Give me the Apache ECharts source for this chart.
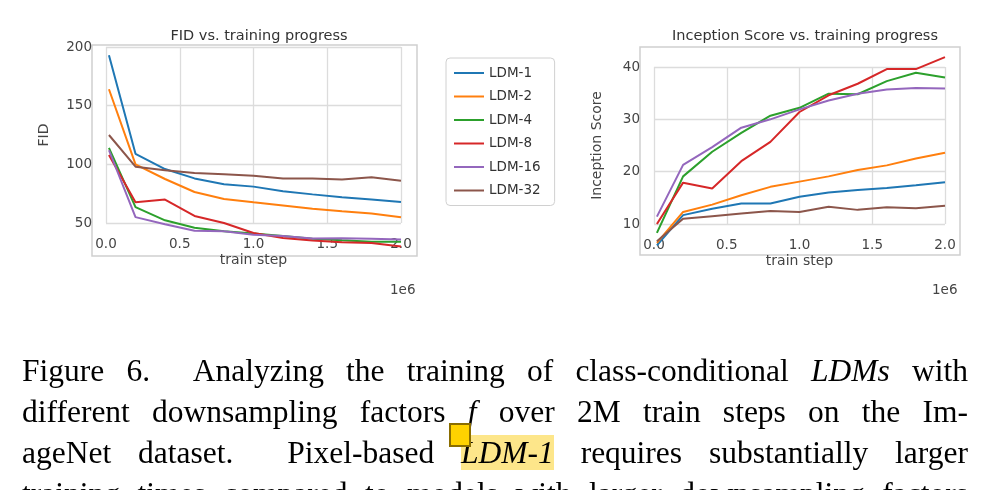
<!DOCTYPE html>
<html>
<head>
<meta charset="utf-8">
<script src="https://cdn.jsdelivr.net/npm/echarts@6/dist/echarts.min.js"></script>
<style>
  body { margin:0; background:#fff; }
  #main { width:996px; height:490px; position:absolute; left:0; top:0; }
  .cap { position:absolute; left:22px; width:946px; font-family:"Liberation Serif","Times New Roman",serif;
         font-size:31.5px; line-height:41px; color:#000; overflow:hidden; height:170px; top:350px; }
  .cap div { text-align:justify; text-align-last:justify; white-space:nowrap; }
  .hl { background:#fde68a; font-style:italic; position:relative; }
  .note { position:absolute; left:-12px; top:-12px; width:22px; height:24px; background:#ffd200;
          border:2px solid #8a6d00; box-sizing:border-box; }
</style>
</head>
<body>
<div id="main"></div>
<div class="cap">
  <div>Figure 6.&nbsp; Analyzing the training of class-conditional <i>LDMs</i> with</div>
  <div>different downsampling factors <i>f</i> over 2M train steps on the Im-</div>
  <div>ageNet dataset.&nbsp; Pixel-based <span class="hl"><span class="note"></span>LDM-1</span> requires substantially larger</div>
  <div>training times compared to models with larger downsampling factors</div>
</div>
<script>
var steps = [0.02, 0.2, 0.4, 0.6, 0.8, 1.0, 1.2, 1.4, 1.6, 1.8, 2.0];
var names = ['LDM-1', 'LDM-2', 'LDM-4', 'LDM-8', 'LDM-16', 'LDM-32'];
var colors = ['#1f77b4', '#ff7f0e', '#2ca02c', '#d62728', '#9467bd', '#8c564b'];

var fid1 = [193, 109, 96, 88, 83, 81, 77, 74.4, 72, 70, 68];
var fid2 = [164, 100, 87.5, 76.4, 70.4, 67.6, 65, 62.2, 60, 58, 55];
var fid4 = [114, 63.6, 52.3, 46, 43, 41, 39, 36.6, 35.2, 34, 34];
var fid8 = [108, 67.6, 70, 56, 50, 41.5, 37.2, 35, 33.5, 33, 30];
var fid16 = [112, 55, 49, 43.4, 43, 40, 39, 36.8, 37, 36.6, 36];
var fid32 = [125, 98, 95, 92.6, 91.5, 90.3, 88, 88, 87, 89, 86];

var is1 = [5.9, 11.7, 12.9, 13.9, 13.9, 15.2, 16, 16.5, 16.9, 17.4, 18];
var is2 = [6.4, 12.3, 13.7, 15.5, 17.1, 18.1, 19.1, 20.3, 21.2, 22.5, 23.6];
var is4 = [8.3, 19.1, 23.8, 27.4, 30.7, 32.2, 34.9, 34.8, 37.3, 38.9, 38];
var is8 = [10, 17.9, 16.8, 22, 25.7, 31.4, 34.6, 36.8, 39.6, 39.6, 41.9];
var is16 = [11.4, 21.3, 24.7, 28.4, 30, 31.9, 33.6, 34.9, 35.7, 36, 35.9];
var is32 = [6.7, 11, 11.5, 12, 12.5, 12.3, 13.3, 12.7, 13.2, 13, 13.5];

var fidSets = [fid1, fid2, fid4, fid8, fid16, fid32];
var isSets = [is1, is2, is4, is8, is16, is32];

function pairs(v) { return steps.map(function (s, i) { return [s, v[i]]; }); }

var txt = '#444';
var font = 'DejaVu Sans';
function xAxis(idx) {
  return {
    gridIndex: idx, type: 'value', min: 0, max: 2, interval: 0.5,
    name: 'train step', nameLocation: 'middle', nameGap: 30,
    nameTextStyle: { color: txt, fontSize: 14, fontFamily: font },
    axisLine: { show: false }, axisTick: { show: false },
    axisLabel: { color: txt, fontSize: 13.5, fontFamily: font, margin: 14,
                 formatter: function (v) { return v.toFixed(1); } },
    splitLine: { lineStyle: { color: '#dcdcdc', width: 1.3 } }
  };
}
function yAxis(idx, name, min, max, interval, gap) {
  return {
    gridIndex: idx, type: 'value', min: min, max: max, interval: interval,
    name: name, nameLocation: 'middle', nameGap: gap,
    nameTextStyle: { color: txt, fontSize: 14, fontFamily: font },
    axisLine: { show: false }, axisTick: { show: false },
    axisLabel: { color: txt, fontSize: 13.5, fontFamily: font, margin: 14 },
    splitLine: { lineStyle: { color: '#dcdcdc', width: 1.3 } }
  };
}

var series = [];
names.forEach(function (n, i) {
  series.push({ name: n, type: 'line', xAxisIndex: 0, yAxisIndex: 0, data: pairs(fidSets[i]),
    showSymbol: false, clip: false, lineStyle: { width: 2, color: colors[i] }, itemStyle: { color: colors[i] } });
  series.push({ name: n, type: 'line', xAxisIndex: 1, yAxisIndex: 1, data: pairs(isSets[i]),
    showSymbol: false, clip: false, lineStyle: { width: 2, color: colors[i] }, itemStyle: { color: colors[i] } });
});

var chart = echarts.init(document.getElementById('main'));
chart.setOption({
  animation: false,
  title: [
    { text: 'FID vs. training progress', left: 254, top: 24, textAlign: 'center',
      textStyle: { color: '#333', fontSize: 14.5, fontWeight: 'normal', fontFamily: font } },
    { text: 'Inception Score vs. training progress', left: 800, top: 24, textAlign: 'center',
      textStyle: { color: '#333', fontSize: 14.5, fontWeight: 'normal', fontFamily: font } }
  ],
  grid: [
    { left: 106, width: 295, top: 47, height: 176 },
    { left: 654, width: 291, top: 67, height: 157 }
  ],
  xAxis: [xAxis(0), xAxis(1)],
  yAxis: [yAxis(0, 'FID', 50, 200, 50, 55), yAxis(1, 'Inception Score', 10, 40, 10, 50)],
  legend: {
    data: names, orient: 'vertical', left: 446, top: 58, itemGap: 9.5,
    itemWidth: 30, itemHeight: 2, icon: 'rect',
    textStyle: { color: '#333', fontSize: 13.5, fontFamily: font },
    backgroundColor: '#fff', borderColor: '#d0d0d0', borderWidth: 1, borderRadius: 4,
    padding: [8, 14, 8, 8]
  },
  graphic: [
    { type: 'rect', shape: { x: 92, y: 45, width: 325, height: 211 },
      style: { fill: 'none', stroke: '#d0d0d0', lineWidth: 1.5 }, z: 0 },
    { type: 'rect', shape: { x: 640, y: 47, width: 320, height: 208 },
      style: { fill: 'none', stroke: '#d0d0d0', lineWidth: 1.5 }, z: 0 },
    { type: 'text', left: 390, top: 283, style: { text: '1e6', fill: txt, fontSize: 13.5, fontFamily: font } },
    { type: 'text', left: 932, top: 283, style: { text: '1e6', fill: txt, fontSize: 13.5, fontFamily: font } }
  ],
  series: series
});
</script>
</body>
</html>
